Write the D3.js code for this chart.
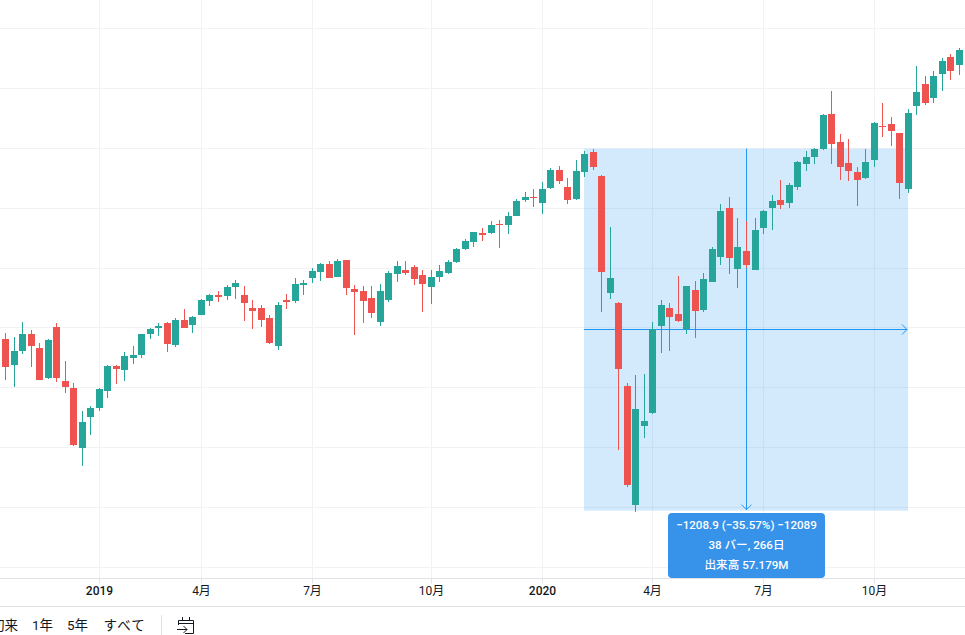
<!DOCTYPE html>
<html lang="ja">
<head>
<meta charset="utf-8">
<script src="https://cdn.jsdelivr.net/npm/d3@7/dist/d3.min.js"></script>
<style>
  html, body { margin: 0; padding: 0; background: #fff; overflow: hidden; }
  text { font-family: Roboto, "Noto Sans CJK JP", sans-serif; }
  .axis-x path { stroke: #e0e3e8; }
  .axis-x line { stroke: #e0e3e8; }
  .axis-x text { font-size: 12px; fill: #131722; }
  .axis-x .major text { font-weight: 500; }
</style>
</head>
<body>
<svg id="chart" width="965" height="635"></svg>
<script>
const WIDTH = 965;
const HEIGHT = 635;

// weekly bars, first visible one is mid October 2018
const opens = [2763,2676,2723,2780,2733,2633,2803,2623,2599,2399,2502,2533,2589,2673,2660,2700,2710,2780,2800,2817,2743,2827,2810,2843,2890,2910,2907,2937,2910,2867,2867,2833,2740,2894,2890,
  2944,2967,2987,3014,2970,3027,2930,2924,2900,2820,2894,2980,2994,3004,2977,2937,2970,2984,3021,3064,3087,3118,3118,3148,3144,3174,3228,3238,3218,3268,3328,3271,3231,3321,3388,
  3308,2917,2884,2606,2208,2472,2516,2807,2867,2847,2795,2927,2860,2954,3037,3201,2997,3057,2994,3134,3201,
  3228,3218,3271,3348,3372,3398,3515,3422,3351,3321,3301,3362,3475,3482,3452,3265,3542,3616,3569,3649,3706,3679];
const highs = [2783,2770,2820,2793,2750,2763,2817,2690,2616,2523,2539,2599,2676,2676,2720,2740,2780,2800,2817,2820,2833,2863,2840,2897,2914,2924,2944,2960,2940,2894,2877,2843,2887,2914,2967,
  2960,3000,3017,3024,3031,3027,2944,2940,2940,2947,2990,3024,3024,3010,2994,2994,3010,3027,3067,3097,3121,3134,3158,3161,3188,3231,3255,3265,3288,3335,3342,3301,3362,3392,3398,
  3311,3138,2887,2616,2643,2646,2820,2894,2884,2974,2940,2957,2984,3071,3214,3238,3168,3158,3168,3194,3245,
  3295,3285,3358,3392,3402,3515,3592,3448,3432,3338,3398,3489,3552,3505,3452,3532,3676,3642,3659,3702,3716,3736];
const lows = [2626,2603,2713,2670,2626,2630,2620,2583,2406,2339,2442,2523,2566,2613,2623,2680,2700,2763,2773,2720,2736,2800,2783,2843,2873,2887,2894,2897,2823,2797,2803,2747,2726,2863,2884,
  2910,2950,2957,2967,2970,2910,2777,2817,2833,2807,2887,2954,2977,2944,2853,2880,2954,2980,3017,3061,3071,3091,3114,3067,3114,3174,3221,3204,3181,3265,3281,3214,3228,3305,3328,
  2853,2897,2392,2268,2185,2432,2512,2716,2723,2820,2780,2767,2853,2954,3010,2980,2934,3000,2994,3114,3127,
  3198,3201,3261,3325,3348,3395,3348,3295,3291,3208,3298,3338,3438,3408,3231,3251,3512,3545,3552,3592,3629,3646];
const closes = [2670,2723,2780,2740,2626,2760,2633,2603,2409,2486,2533,2596,2673,2663,2706,2710,2780,2797,2807,2747,2827,2800,2837,2894,2910,2904,2937,2950,2884,2857,2827,2750,2877,2887,2947,
  2950,2990,3014,2967,3024,2934,2920,2890,2850,2924,2984,3007,2984,2964,2947,2970,2990,3021,3064,3091,3121,3111,3144,3144,3174,3225,3238,3235,3265,3328,3291,3228,3325,3382,3338,
  2987,2967,2663,2275,2529,2489,2795,2877,2837,2823,2940,2857,2964,3064,3191,3034,3071,3010,3127,3191,3225,
  3211,3278,3355,3372,3398,3512,3415,3338,3325,3295,3355,3485,3472,3459,3285,3519,3589,3552,3642,3692,3659,3729];

const priceTicks = [2000,2200,2400,2600,2800,3000,3200,3400,3600,3800];
const timeTickBars = [11,23,36,50,63,76,89,102];
const timeTickLabels = ['2019','4月','7月','10月','2020','4月','7月','10月'];
const rangeButtons = ['初来','1年','5年','すべて'];

// the measured range: top price, low price
const rangePrices = [3398.7, 2189.8];
const rangeLines = ['\u22121208.9 (\u221235.57%) \u221212089','38 バー, 266日','出来高 57.179M'];

const UP = '#26a69a';
const DOWN = '#ef5350';
const GRID = '#f1f2f5';
const BLUE = '#2196f3';

const svg = d3.select('#chart');

const x = d3.scaleLinear().domain([0, 112]).range([5.6, 959.4]);
const y = d3.scaleLinear().domain([2000, 3800]).range([567.5, 28.5]);
const bars = d3.range(opens.length);
const snap = v => Math.floor(v);

// grid
svg.append('g').selectAll('line').data(priceTicks).join('line')
    .attr('x1', 0).attr('x2', WIDTH)
    .attr('y1', d => Math.floor(y(d)) + 0.5).attr('y2', d => Math.floor(y(d)) + 0.5)
    .attr('stroke', GRID);
svg.append('g').selectAll('line').data(timeTickBars).join('line')
    .attr('x1', d => snap(x(d)) + 0.5).attr('x2', d => snap(x(d)) + 0.5)
    .attr('y1', 0).attr('y2', 578)
    .attr('stroke', GRID);

// measure box and arrows sit between the grid and the candles
const boxLeft = 584, boxRight = 908;
const boxTop = y(rangePrices[0]), boxBottom = y(rangePrices[1]);
svg.append('rect')
    .attr('x', boxLeft).attr('y', boxTop)
    .attr('width', boxRight - boxLeft).attr('height', boxBottom - boxTop)
    .attr('fill', BLUE).attr('fill-opacity', 0.2);

const midX = 746.5;
const midY = 329.5;
svg.append('line').attr('x1', midX).attr('x2', midX).attr('y1', boxTop).attr('y2', boxBottom - 1)
    .attr('stroke', BLUE);
svg.append('line').attr('x1', boxLeft).attr('x2', boxRight - 1).attr('y1', midY).attr('y2', midY)
    .attr('stroke', BLUE);
svg.append('path')
    .attr('d', `M${midX - 5},${boxBottom - 6}L${midX},${boxBottom - 1}L${midX + 5},${boxBottom - 6}`)
    .attr('fill', 'none').attr('stroke', BLUE);
svg.append('path')
    .attr('d', `M${boxRight - 6},${midY - 5}L${boxRight - 1},${midY}L${boxRight - 6},${midY + 5}`)
    .attr('fill', 'none').attr('stroke', BLUE);

// candles
const candles = svg.append('g').selectAll('g').data(bars).join('g')
    .attr('fill', i => closes[i] < opens[i] ? DOWN : UP);
candles.append('rect')
    .attr('x', i => snap(x(i)))
    .attr('width', 1)
    .attr('y', i => Math.round(y(highs[i])))
    .attr('height', i => Math.round(y(lows[i])) - Math.round(y(highs[i])));
candles.append('rect')
    .attr('x', i => snap(x(i)) - 3)
    .attr('width', 7)
    .attr('y', i => Math.round(y(Math.max(opens[i], closes[i]))))
    .attr('height', i => Math.max(1, Math.round(y(Math.min(opens[i], closes[i]))) - Math.round(y(Math.max(opens[i], closes[i])))));

// time axis
const xAxis = d3.axisBottom(x)
    .tickValues(timeTickBars)
    .tickFormat((d, i) => timeTickLabels[i])
    .tickSize(5)
    .tickSizeOuter(0)
    .tickPadding(3);
const xAxisElement = svg.append('g')
    .attr('class', 'axis-x')
    .attr('transform', 'translate(0,578.5)')
    .call(xAxis);
xAxisElement.select('.domain').attr('d', `M0,0H${WIDTH}`);
xAxisElement.selectAll('.tick')
    .attr('transform', d => `translate(${snap(x(d)) + 0.5},0)`)
    .classed('major', (d, i) => /^\d{4}$/.test(timeTickLabels[i]));

// measure label goes over the axis line
const label = svg.append('g');
label.append('rect')
    .attr('x', 668).attr('y', 513).attr('width', 157).attr('height', 65).attr('rx', 4)
    .attr('fill', '#3792ea');
label.selectAll('text').data(rangeLines).join('text')
    .attr('x', midX).attr('y', (d, i) => 529 + i * 20)
    .attr('text-anchor', 'middle')
    .attr('fill', '#fff')
    .attr('font-size', 11.6)
    .attr('font-weight', 500)
    .text(d => d);

// bottom toolbar
svg.append('line').attr('x1', 0).attr('x2', WIDTH).attr('y1', 606.5).attr('y2', 606.5)
    .attr('stroke', '#e0e3e8');
const buttonEnds = [18, 53, 88, 146];
svg.append('g').selectAll('text').data(rangeButtons).join('text')
    .attr('x', (d, i) => buttonEnds[i]).attr('y', 630)
    .attr('text-anchor', 'end')
    .attr('font-size', 13.5)
    .attr('letter-spacing', d => d.length === 3 ? 1.2 : 0)
    .attr('fill', '#131722')
    .text(d => d);
svg.append('line').attr('x1', 161.5).attr('x2', 161.5).attr('y1', 615).attr('y2', 635)
    .attr('stroke', '#e0e3e8');
svg.append('path')
    .attr('d', 'M178.5,625V620.5H193.5V633.5H185M178.5,623.5H193.5M182.5,617V621M189.5,617V621M177,629.5H187M183.5,626L187,629.5L183.5,633')
    .attr('fill', 'none').attr('stroke', '#131722');
</script>
</body>
</html>
